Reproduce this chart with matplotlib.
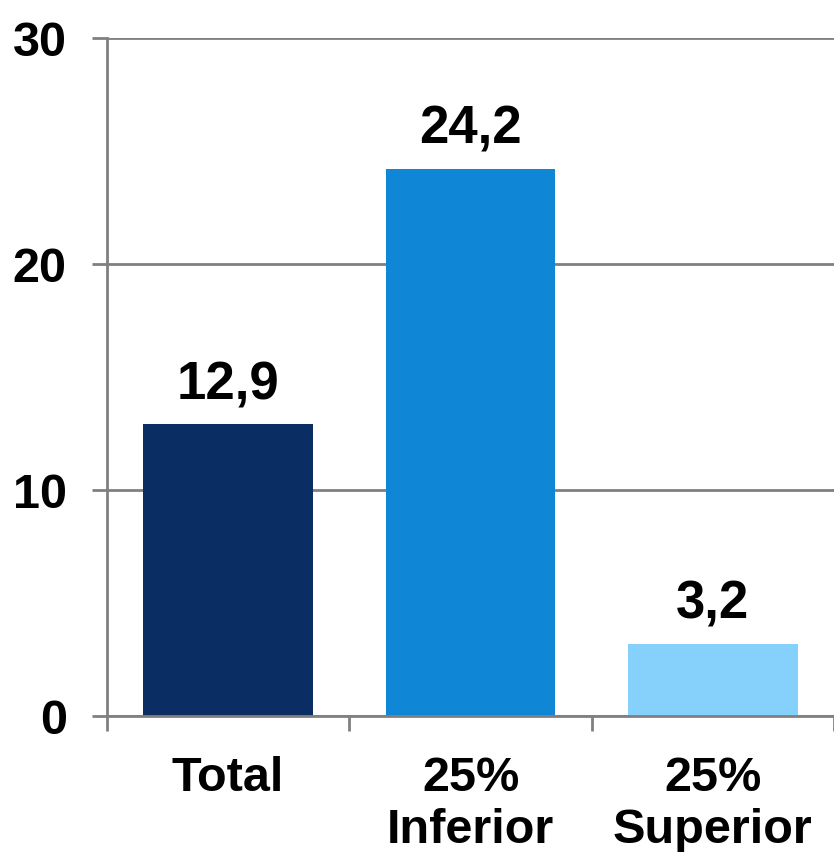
import numpy as np
import matplotlib.pyplot as plt

categories = ["Total", "25%\nInferior", "25%\nSuperior"]
values = [12.9, 24.2, 3.2]
value_labels = ["12,9", "24,2", "3,2"]
colors = ["#0a2e63", "#0f86d6", "#85d1fc"]

plt.rcParams['font.family'] = ['Liberation Sans', 'DejaVu Sans']
plt.rcParams['font.weight'] = 'bold'

fig = plt.figure(figsize=(8.34, 8.53), dpi=100)
ax = fig.add_axes([107/834, 136/853, 727/834, 678/853])

x = np.arange(len(categories))
ax.bar(x, values, width=0.70, color=colors, zorder=3)

for xi, v, lab in zip(x, values, value_labels):
    ax.annotate(lab, (xi, v), xytext=(0, 11), textcoords="offset points",
                ha="center", va="bottom", fontsize=38, fontweight="bold")

ax.set_xlim(-0.5, 2.5)
ax.set_ylim(0, 30)
ax.set_yticks([0, 10, 20, 30])
ax.yaxis.grid(True, color="#808080", linewidth=2, zorder=0)

# boundary ticks as major, labels on minor ticks at the centres
ax.set_xticks([-0.5, 0.5, 1.5, 2.5])
ax.set_xticklabels([])
ax.set_xticks(x, minor=True)
ax.set_xticklabels(categories, minor=True, fontsize=35, fontweight="bold",
                   linespacing=1.2)
ax.tick_params(axis="x", which="major", length=11, width=2, color="#808080", direction="out")
ax.tick_params(axis="x", which="minor", length=0, pad=28)
ax.tick_params(axis="y", length=11, width=2, color="#808080", labelsize=35, pad=18)

for s in ["top", "right"]:
    ax.spines[s].set_visible(False)
for s in ["left", "bottom"]:
    ax.spines[s].set_color("#808080")
    ax.spines[s].set_linewidth(2)
    ax.spines[s].set_zorder(4)

plt.savefig("out.png", dpi=100)
